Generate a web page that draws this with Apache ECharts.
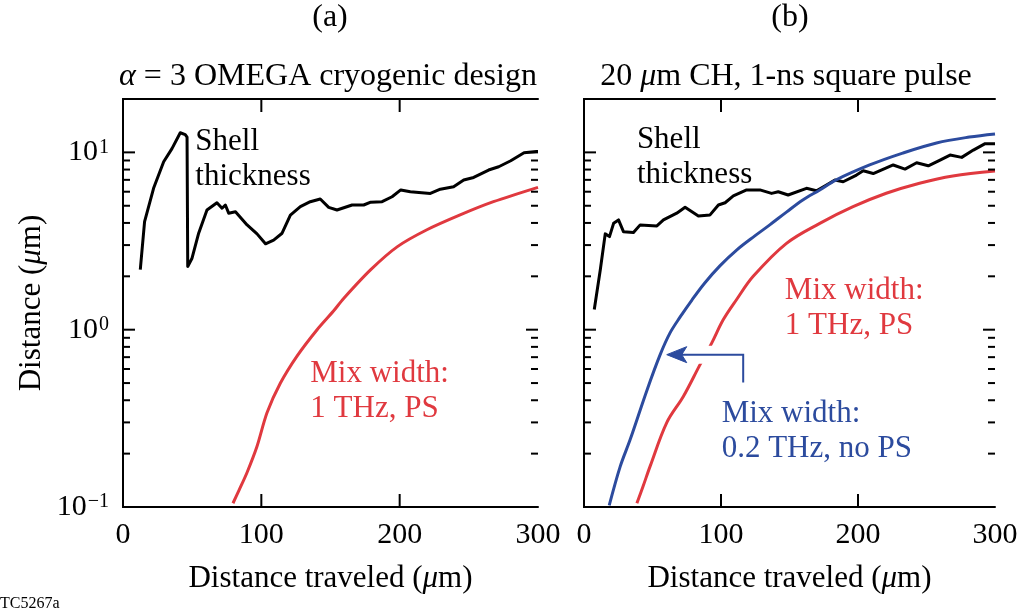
<!DOCTYPE html>
<html>
<head>
<meta charset="utf-8">
<script src="https://cdn.jsdelivr.net/npm/echarts@6/dist/echarts.min.js"></script>
<style>
  html, body { margin: 0; padding: 0; background: #ffffff; }
  #chart { width: 1027px; height: 614px; }
</style>
</head>
<body>
<div id="chart"></div>
<script>
// ---- data: distance traveled (µm) vs. distance (µm) ----
const X_MIN = 0, X_MAX = 300;
const Y_MIN = 0.1, Y_MAX = 20;
const xTickValues = [0, 100, 200, 300];
const xInnerTicks = [100, 200];
const yLabelValues = [0.1, 1, 10];
const yMajorTicks = [1, 10];
const yMinorTicks = [0.2, 0.3, 0.4, 0.5, 0.6, 0.7, 0.8, 0.9, 2, 3, 4, 5, 6, 7, 8, 9];

// (a) alpha = 3 OMEGA cryogenic design
const shellA_x = [12.5, 15.6, 22.1, 29.4, 35.4, 41.4, 45.0, 46.3, 46.8, 49.9, 54.7, 60.7, 67.9, 71.6, 74.0, 76.4, 81.3, 89.7, 96.9, 103.0, 108.9, 115.0, 121.0, 128.2, 135.4, 142.6, 148.7, 154.7, 165.6, 174.0, 179.1, 187.3, 194.5, 200.8, 207.7, 222.2, 229.4, 239.0, 246.3, 253.5, 264.3, 271.6, 280.3, 289.9, 298.8, 300.0];
const shellA_y = [2.18, 4.07, 6.27, 8.85, 10.5, 12.9, 12.6, 12.2, 2.27, 2.53, 3.5, 4.73, 5.2, 4.84, 5.05, 4.54, 4.63, 3.9, 3.47, 3.05, 3.2, 3.5, 4.43, 4.94, 5.27, 5.46, 4.9, 4.73, 5.05, 5.05, 5.24, 5.27, 5.62, 6.14, 6.0, 5.87, 6.2, 6.4, 6.98, 7.22, 7.95, 8.3, 8.97, 9.95, 10.1, 10.1];
const mixA_x = [79.5, 84.0, 89.6, 96.9, 104.1, 113.8, 125.8, 140.3, 152.0, 159.5, 179.1, 198.4, 219.7, 243.7, 267.8, 300.0];
const mixA_y = [0.105, 0.125, 0.156, 0.22, 0.34, 0.5, 0.71, 1.0, 1.27, 1.5, 2.18, 2.94, 3.66, 4.44, 5.27, 6.35];

// (b) 20 µm CH, 1-ns square pulse
const shellB_x = [7.5, 11.9, 15.5, 18.6, 21.6, 25.2, 28.8, 36.1, 41.0, 53.2, 58.0, 67.7, 73.8, 83.5, 92.0, 98.1, 103.0, 109.0, 118.7, 128.4, 136.9, 141.8, 149.0, 162.4, 169.7, 177.0, 183.1, 189.2, 198.9, 203.8, 211.1, 225.7, 234.3, 242.8, 251.3, 259.9, 267.2, 275.7, 284.2, 292.8, 300.0];
const shellB_y = [1.3, 2.18, 3.47, 3.35, 3.98, 4.16, 3.57, 3.53, 3.9, 3.85, 4.16, 4.54, 4.9, 4.38, 4.44, 5.05, 5.2, 5.68, 6.14, 6.14, 5.87, 6.0, 5.75, 6.27, 6.08, 6.55, 6.98, 6.83, 7.45, 7.87, 7.6, 8.49, 8.05, 8.74, 8.4, 9.05, 9.66, 9.37, 10.3, 11.2, 11.2];
const mixPS_x = [38.6, 43.0, 48.3, 60.5, 72.5, 84.7, 93.2, 101.7, 111.4, 123.5, 147.8, 172.1, 196.4, 220.6, 244.9, 269.2, 300.0];
const mixPS_y = [0.105, 0.13, 0.17, 0.3, 0.42, 0.635, 0.84, 1.14, 1.48, 2.0, 3.07, 3.98, 4.94, 5.88, 6.7, 7.36, 7.85];
const mixNoPS_x = [18.4, 26.4, 33.7, 46.1, 55.6, 62.9, 70.2, 78.9, 88.3, 99.2, 111.6, 124.7, 135.6, 148.0, 159.7, 172.1, 183.8, 208.5, 232.6, 257.3, 281.3, 300.0];
const mixNoPS_y = [0.102, 0.169, 0.24, 0.459, 0.723, 0.962, 1.18, 1.475, 1.84, 2.29, 2.82, 3.38, 3.9, 4.62, 5.39, 6.14, 6.98, 8.49, 9.91, 11.3, 12.2, 12.7];

// ---- styling ----
const FONT = "'Liberation Serif', 'Times New Roman', serif";
const RED = '#e0393f';
const BLUE = '#2c4b9e';
const BLACK = '#000000';
const MAJOR_LEN = 12, MINOR_LEN = 7, X_TICK_LEN = 13;

const zip = (xs, ys) => xs.map((x, i) => [x, ys[i]]);

function supLabel(v) {
  const e = Math.round(Math.log10(v));
  return '{b|10}{s|' + (e < 0 ? '\u2212' + (-e) : e) + '}';
}

const labelRich = {
  b: { fontFamily: FONT, fontSize: 30, color: BLACK },
  s: { fontFamily: FONT, fontSize: 20, color: BLACK, verticalAlign: 'top', padding: [0, 0, 0, 1] }
};
const nameStyle = {
  fontFamily: FONT, fontSize: 31, color: BLACK,
  rich: { i: { fontFamily: FONT, fontSize: 31, fontStyle: 'italic', color: BLACK } }
};

const gridA = { left: 123, top: 99, width: 415, height: 408 };
const gridB = { left: 584, top: 99, width: 411, height: 408 };
const boxLine = { show: true, lineStyle: { color: BLACK, width: 2 } };

function xBottom(gridIndex) {
  return {
    type: 'value', gridIndex, position: 'bottom', min: X_MIN, max: X_MAX, interval: 100,
    axisLine: boxLine, axisTick: { show: false },
    axisLabel: { show: true, margin: 13, fontFamily: FONT, fontSize: 30, color: BLACK },
    splitLine: { show: false },
    name: 'Distance traveled ({i|\u03bc}m)', nameLocation: 'middle', nameGap: 56,
    nameTextStyle: nameStyle
  };
}
function xTop(gridIndex) {
  return {
    type: 'value', gridIndex, position: 'top', min: X_MIN, max: X_MAX, interval: 100,
    axisLine: boxLine, axisTick: { show: false }, axisLabel: { show: false }, splitLine: { show: false }
  };
}
function yLeft(gridIndex, labels) {
  const ax = {
    type: 'log', logBase: 10, gridIndex, position: 'left', min: Y_MIN, max: Y_MAX,
    axisLine: boxLine, axisTick: { show: false },
    axisLabel: { show: labels, customValues: yLabelValues, margin: 14, formatter: supLabel, rich: labelRich },
    splitLine: { show: false }
  };
  if (labels) {
    ax.name = 'Distance ({i|\u03bc}m)';
    ax.nameLocation = 'middle';
    ax.nameGap = 76;
    ax.nameTextStyle = nameStyle;
  }
  return ax;
}
function yRight(gridIndex) {
  return {
    type: 'log', logBase: 10, gridIndex, position: 'right', min: Y_MIN, max: Y_MAX,
    axisLine: boxLine, axisTick: { show: false }, axisLabel: { show: false }, splitLine: { show: false }
  };
}

// inward-pointing ticks on all four sides of a panel, placed through the axes' own scales
function tickData() {
  const d = [];
  xInnerTicks.forEach(v => d.push([v, 1, 0, X_TICK_LEN]));
  yMajorTicks.forEach(v => d.push([150, v, 1, MAJOR_LEN]));
  yMinorTicks.forEach(v => d.push([150, v, 1, MINOR_LEN]));
  return d;
}
function tickSeries(xi, yi) {
  return {
    type: 'custom', xAxisIndex: xi, yAxisIndex: yi, silent: true, clip: false, z: 6,
    data: tickData(),
    renderItem(params, api) {
      const orient = api.value(2), len = api.value(3);
      const st = { stroke: BLACK, lineWidth: 2 };
      if (orient === 0) {
        const v = api.value(0);
        const b = api.coord([v, Y_MIN]);
        const t = api.coord([v, Y_MAX]);
        return { type: 'group', children: [
          { type: 'line', shape: { x1: b[0], y1: b[1], x2: b[0], y2: b[1] - len }, style: st },
          { type: 'line', shape: { x1: t[0], y1: t[1], x2: t[0], y2: t[1] + len }, style: st }
        ] };
      }
      const v = api.value(1);
      const l = api.coord([X_MIN, v]);
      const r = api.coord([X_MAX, v]);
      return { type: 'group', children: [
        { type: 'line', shape: { x1: l[0], y1: l[1], x2: l[0] + len, y2: l[1] }, style: st },
        { type: 'line', shape: { x1: r[0], y1: r[1], x2: r[0] - len, y2: r[1] }, style: st }
      ] };
    }
  };
}

function line(name, xs, ys, color, xi, yi, smooth) {
  return {
    name, type: 'line', xAxisIndex: xi, yAxisIndex: yi,
    data: zip(xs, ys), showSymbol: false, symbol: 'none', smooth: smooth,
    clip: true, z: 3,
    lineStyle: { color, width: 3, join: 'round' }
  };
}

const chart = echarts.init(document.getElementById('chart'), null, { renderer: 'canvas' });

chart.setOption({
  backgroundColor: '#ffffff',
  animation: false,
  grid: [Object.assign({}, gridA), Object.assign({}, gridB)],
  xAxis: [xBottom(0), xTop(0), xBottom(1), xTop(1)],
  yAxis: [yLeft(0, true), yRight(0), yLeft(1, false), yRight(1)],
  series: [
    tickSeries(0, 0),
    tickSeries(2, 2),
    line('Shell thickness (a)', shellA_x, shellA_y, BLACK, 0, 0, false),
    line('Mix width 1 THz, PS (a)', mixA_x, mixA_y, RED, 0, 0, 0.3),
    line('Shell thickness (b)', shellB_x, shellB_y, BLACK, 2, 2, false),
    line('Mix width 1 THz, PS (b)', mixPS_x, mixPS_y, RED, 2, 2, 0.35),
    line('Mix width 0.2 THz, no PS (b)', mixNoPS_x, mixNoPS_y, BLUE, 2, 2, 0.35)
  ]
});

// ---- annotations, anchored in data space ----
const pa = (x, y) => chart.convertToPixel({ xAxisIndex: 0, yAxisIndex: 0 }, [x, y]);
const pb = (x, y) => chart.convertToPixel({ xAxisIndex: 2, yAxisIndex: 2 }, [x, y]);

function note(p, text, color) {
  return {
    type: 'text', x: p[0], y: p[1], z: 110,
    style: { text, fill: color, font: '31px ' + FONT, lineHeight: 35, align: 'left', verticalAlign: 'top' }
  };
}
function heading(x, y, text, rich) {
  return {
    type: 'text', x, y, z: 110,
    style: { text, fill: BLACK, font: '32px ' + FONT, align: 'center', verticalAlign: 'middle', rich }
  };
}
const italicRich = { i: { fontFamily: FONT, fontSize: 32, fontStyle: 'italic', fill: BLACK } };

const tip = pb(60.4, 0.723);
const corner = pb(116.2, 0.723);
const tail = pb(116.2, 0.503);

chart.setOption({
  graphic: [
    heading(330, 18, '(a)'),
    heading(790, 18, '(b)'),
    heading(328, 77, '{i|\u03b1} = 3 OMEGA cryogenic design', italicRich),
    heading(786, 77, '20 {i|\u03bc}m CH, 1-ns square pulse', italicRich),
    note(pa(52.3, 14.3), 'Shell\nthickness', BLACK),
    note(pa(135.4, 0.705), 'Mix width:\n1 THz, PS', RED),
    note(pb(38.6, 14.8), 'Shell\nthickness', BLACK),
    note(pb(146.6, 2.09), 'Mix width:\n1 THz, PS', RED),
    note(pb(100.5, 0.42), 'Mix width:\n0.2 THz, no PS', BLUE),
    // white knock-out behind the arrow shaft
    { type: 'line', z: 100, shape: { x1: tip[0] + 26, y1: tip[1], x2: corner[0] - 6, y2: tip[1] },
      style: { stroke: '#ffffff', lineWidth: 18 } },
    { type: 'polyline', z: 105, shape: { points: [[tail[0], tail[1]], [corner[0], corner[1]], [tip[0] + 14, tip[1]]] },
      style: { stroke: BLUE, lineWidth: 2, fill: null } },
    { type: 'polygon', z: 106,
      shape: { points: [[tip[0], tip[1]], [tip[0] + 20, tip[1] - 8], [tip[0] + 15, tip[1]], [tip[0] + 20, tip[1] + 8]] },
      style: { fill: BLUE, stroke: BLUE, lineWidth: 1 } },
    { type: 'text', x: 0, y: 604, z: 110,
      style: { text: 'TC5267a', fill: BLACK, font: '16px ' + FONT, align: 'left', verticalAlign: 'middle' } }
  ]
});
</script>
</body>
</html>
